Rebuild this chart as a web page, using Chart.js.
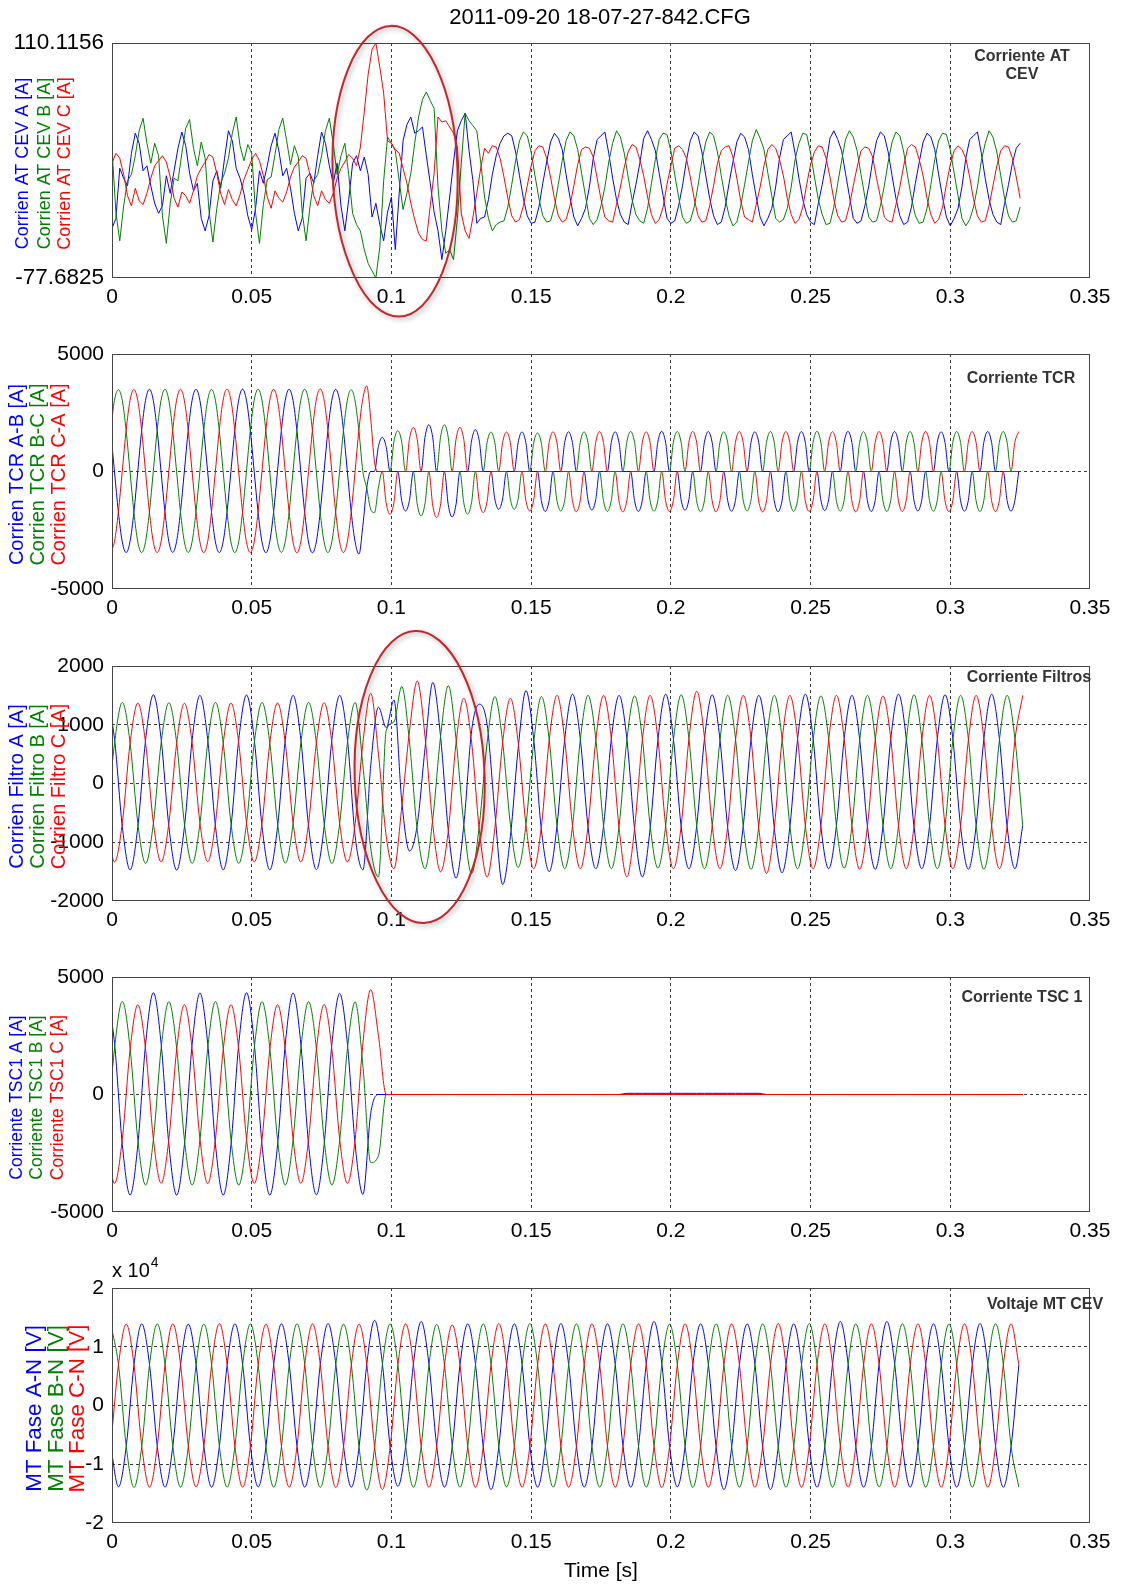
<!DOCTYPE html>
<html>
<head>
<meta charset="utf-8">
<title>2011-09-20 18-07-27-842.CFG</title>
<script src="https://cdn.jsdelivr.net/npm/chart.js@4.4.1/dist/chart.umd.min.js"></script>
<style>
  html, body { margin: 0; padding: 0; background: #fff; }
  #page { position: relative; width: 1121px; height: 1586px; overflow: hidden; }
  #page canvas { position: absolute; left: 0; }
</style>
</head>
<body>
<div id="page">
  <canvas id="pAT" width="1121" height="330" style="top:0px"></canvas>
  <canvas id="pTCR" width="1121" height="330" style="top:311px"></canvas>
  <canvas id="pFIL" width="1121" height="330" style="top:623px"></canvas>
  <canvas id="pTSC" width="1121" height="330" style="top:934px"></canvas>
  <canvas id="pMT" width="1121" height="339" style="top:1245px"></canvas>
</div>
<script>
// Sample period of the record: 6 or 12 points per 60 Hz cycle
const DT6 = 1 / 360;
const DT12 = 1 / 720;

const timeTicks = [0, 0.05, 0.1, 0.15, 0.2, 0.25, 0.3, 0.35];

// ---- Panel 1: Corriente AT CEV [A] (12 pts/cycle, starts at t = 0)
const atStart = 0;
const atTicks = [-77.6825, 110.1156];
const atA = [
  -38,-30,10,2,-4,22,38,30,8,12,-4,-18,
  -26,-20,4,-10,8,26,39,28,6,-8,-2,-30,
  -40,-28,0,8,-6,18,40,32,10,2,-10,-28,
  -39,-22,8,-2,12,28,38,24,4,10,-6,-26,
  -40,-30,2,6,-2,20,39,30,12,-2,
  14,-20,-40,-15,14,20,8,19,5,-29,-18,-35,
  -48,-25,-13,-55,-10,32,45,51,38,40,43,20,
  -2,-25,-40,-63,-40,-13,15,40,48,54,24,0,
  -34,-30,-29,-15,5,20,30,36,38,
  36,23,4,-14,-28,
  -34,-33,-21,-2,15,31,38,34,25,5,-13,-29,
  -36,-30,-22,-5,18,33,36,39,22,2,-15,-27,
  -33,-35,-18,-3,14,34,40,33,24,6,-12,-30,
  -34,-32,-20,-4,16,32,39,36,23,4,-14,-28,
  -35,-33,-21,-2,15,31,38,35,25,5,-13,-29,
  -36,-30,-22,-5,18,33,36,39,22,2,-15,-27,
  -33,-35,-18,-3,14,34,40,33,24,6,-12,-30,
  -34,-32,-20,-4,16,32,39,36,23,4,-14,-28,
  -35,-33,-21,-2,15,31,38,35,25,5,-13,-29,
  -36,-30,-22,-5,18,33,36,39,22,2,-15,-27,
  -33,-35,-18,-3,14,26,30
];
const atB = [
  25,-25,-48,-20,0,5,20,40,50,30,14,30,
  20,-28,-50,-18,2,0,22,42,49,26,12,31,
  18,-24,-49,-22,-2,6,18,38,51,28,16,29,
  22,-26,-50,-19,1,3,21,41,50,32,13,28,
  19,-25,-48,-21,0,5,20,40,50,30,
  5,20,30,5,-26,-35,-40,-55,-66,-72,-77.6,-53,
  0,35,30,24,0,-23,-10,6,30,51,65,71,
  64,58,-5,-40,-58,-55,-63,-30,14,54,48,44,
  40,15,-13,-30,-40,-35,-33,-32,
  -21,-3,16,32,39,36,
  23,4,-14,-28,-33,-32,-21,-3,16,32,39,36,
  25,6,-12,-30,-35,-31,-20,-5,15,30,40,35,
  22,3,-15,-27,-32,-34,-22,-2,17,33,38,37,
  24,5,-13,-29,-34,-32,-21,-4,16,31,39,36,
  23,4,-14,-28,-36,-33,-20,-3,15,32,41,34,
  25,6,-12,-30,-33,-31,-22,-5,17,30,38,37,
  22,3,-15,-27,-35,-34,-21,-2,16,33,40,35,
  24,5,-13,-29,-33,-32,-20,-4,15,31,39,36,
  23,4,-14,-28,-34,-33,-22,-3,17,32,38,37,
  25,6,-12,-30,-36,-31,-21,-5,16,30,40,35,
  23,4,-14,-28,-33,-32,-21
];
const atC = [
  14,22,18,5,-12,-20,-6,-16,-19,-10,2,12,
  16,20,15,3,-14,-21,-9,-12,-18,-8,4,10,
  15,21,19,6,-10,-19,-7,-15,-20,-11,1,9,
  17,22,16,4,-13,-22,-8,-14,-17,-9,3,11,
  15,20,18,5,-12,-20,-8,-15,-18,-10,
  2,10,15,21,18,12,27,55,85,105,110.1,91,
  70,32,30,25,22,10,-2,-18,-31,-42,-47,-48,
  -20,6,51,47,48,43,38,27,-26,-40,-46,-29,
  -10,10,26,22,
  28,27,18,3,-14,-28,-33,-31,-20,-4,
  12,24,28,27,18,3,-14,-28,-33,-31,-20,-4,
  13,25,27,26,19,2,-15,-29,-32,-33,-19,-5,
  11,23,29,27,17,4,-13,-27,-34,-31,-21,-3,
  12,26,28,25,18,3,-14,-28,-33,-32,-20,-4,
  14,24,27,28,19,2,-16,-29,-31,-33,-19,-5,
  12,25,29,26,17,4,-14,-27,-34,-31,-21,-3,
  13,23,28,27,18,3,-15,-28,-33,-32,-20,-4,
  11,24,27,26,19,2,-13,-29,-32,-33,-19,-5,
  12,26,29,27,17,4,-14,-27,-34,-31,-21,-3,
  13,24,28,25,18,3,-15,-28,-33,-32,-20,-4,
  12,24,28,27,18,3,-14
];

// ---- Panel 2: Corriente TCR [A] (12 pts/cycle)
const tcrStart = -0.0005;
const tcrTicks = [-5000, 0, 5000];
const tcrAB = [
  1750,0,-1725,-2990,-3450,-2990,-1725,0,1750,3030,3500,3030,
  1750,0,-1720,-2980,-3440,-2980,-1720,0,1750,3030,3500,3030,
  1755,0,-1725,-2990,-3450,-2990,-1725,0,1750,3035,3505,3035,
  1750,0,-1725,-2995,-3455,-2995,-1730,0,1750,3030,3500,3030,
  1750,0,-1730,-3000,-3460,-3000,-1730,0,1750,3030,3500,3030,
  1750,0,-1725,-2990,-3517,-2300,-700,0,0,1060,1455,1060,
  0,0,0,-1230,-1680,-1230,0,0,0,1450,1990,1450,
  0,0,0,-1410,-1935,-1410,0,0,0,1300,1780,1300,
  0,0,0,-1175,-1610,-1175,0,0,0,1230,1680,1230,
  0,0,0,-1240,-1700,-1240,0,0,0,1235,1690,1235,
  0,0,0,-1200,-1640,-1200,0,0,0,1235,1690,1235,
  0,0,0,-1240,-1700,-1240,0,0,0,1250,1710,1250,
  0,0,0,-1205,-1650,-1205,0,0,0,1240,1700,1240,
  0,0,0,-1235,-1690,-1235,0,0,0,1235,1690,1235,
  0,0,0,-1250,-1710,-1250,0,0,0,1240,1700,1240,
  0,0,0,-1210,-1660,-1210,0,0,0,1245,1705,1245,
  0,0,0,-1240,-1700,-1240,0,0,0,1240,1700,1240,
  0,0,0,-1225,-1680,-1225,0,0,0,1235,1690,1235,
  0,0,0,-1235,-1690,-1235,0,0,0,1240,1700,1240,
  0,0,0,-1235,-1690,-1235,0
];
const tcrBC = [
  1750,3030,3480,3030,1750,0,-1725,-2990,-3450,-2990,-1725,0,
  1750,3030,3500,3030,1750,0,-1725,-2985,-3445,-2985,-1725,0,
  1750,3030,3495,3030,1750,0,-1725,-2990,-3450,-2990,-1725,0,
  1750,3030,3500,3030,1750,0,-1720,-2980,-3440,-2980,-1725,0,
  1750,3030,3500,3030,1750,0,-1725,-2990,-3450,-2990,-1725,0,
  1750,3030,3480,3000,1700,0,-700,-1600,-1750,-700,0,0,
  0,1270,1737,1270,0,0,0,-1380,-1890,-1380,0,0,
  0,1450,1990,1450,0,0,0,-1330,-1820,-1330,0,0,
  0,1230,1680,1230,0,0,0,-1175,-1610,-1175,0,0,
  0,1200,1640,1200,0,0,0,-1230,-1680,-1230,0,0,
  0,1235,1690,1235,0,0,0,-1240,-1700,-1240,0,0,
  0,1245,1705,1245,0,0,0,-1235,-1690,-1235,0,0,
  0,1240,1700,1240,0,0,0,-1250,-1710,-1250,0,0,
  0,1235,1690,1235,0,0,0,-1225,-1680,-1225,0,0,
  0,1240,1700,1240,0,0,0,-1240,-1700,-1240,0,0,
  0,1250,1710,1250,0,0,0,-1235,-1690,-1235,0,0,
  0,1240,1695,1240,0,0,0,-1240,-1700,-1240,0,0,
  0,1240,1700,1240,0,0,0,-1235,-1690,-1235,0,0,
  0,1240,1700,1240,0,0,0,-1240,-1700,-1240,0,0,
  0,1240,1700,1240,0,0,0
];
const tcrCA = [
  -3440,-2980,-1720,0,1750,3020,3490,3020,1750,0,-1725,-2990,
  -3450,-2990,-1725,0,1750,3030,3500,3030,1750,0,-1725,-2990,
  -3455,-2990,-1725,0,1755,3040,3510,3040,1755,0,-1725,-2990,
  -3450,-2990,-1725,0,1750,3030,3500,3030,1750,0,-1730,-2995,
  -3460,-3000,-1730,0,1760,3050,3520,3050,1760,0,-1730,-2995,
  -3450,-2990,-1725,0,1800,3100,3644,2300,400,0,0,-1330,
  -1822,-1330,0,0,0,1370,1880,1370,0,0,0,-1430,
  -1960,-1430,0,0,0,1370,1880,1370,0,0,0,-1280,
  -1750,-1280,0,0,0,1230,1680,1230,0,0,0,-1230,
  -1680,-1230,0,0,0,1235,1690,1235,0,0,0,-1240,
  -1710,-1250,0,0,0,1240,1700,1240,0,0,0,-1255,
  -1720,-1255,0,0,0,1235,1690,1235,0,0,0,-1240,
  -1700,-1240,0,0,0,1245,1705,1245,0,0,0,-1250,
  -1710,-1250,0,0,0,1240,1700,1240,0,0,0,-1255,
  -1720,-1255,0,0,0,1240,1700,1240,0,0,0,-1240,
  -1700,-1240,0,0,0,1235,1695,1235,0,0,0,-1250,
  -1715,-1250,0,0,0,1240,1700,1240,0,0,0,-1240,
  -1700,-1240,0,0,0,1245,1705,1245,0,0,0,-1250,
  -1710,-1250,0,0,0,1240,1700,1240,0,0,0,-1240,
  -1700,-1240,0,0,0,1240,1700
];

// ---- Panel 3: Corriente Filtros [A] (6 pts/cycle)
const filStart = -0.00186;
const filTicks = [-2000, -1000, 0, 1000, 2000];
const filA = [
  1500,750,-735,-1470,-735,750,
  1510,755,-735,-1475,-740,750,
  1500,750,-730,-1470,-735,750,
  1505,750,-735,-1470,-735,750,
  1500,750,-735,-1465,-735,750,
  1500,750,-900,-1470,300,1300,
  950,1420,-300,-1150,-700,600,
  1720,800,-800,-1610,-700,900,
  1350,1000,-500,-1720,-900,600,
  1580,750,-800,-1500,-720,760,
  1520,760,-740,-1450,-720,760,
  1500,760,-780,-1590,-760,740,
  1520,760,-740,-1450,-720,760,
  1510,740,-760,-1480,-720,760,
  1500,760,-760,-1520,-740,760,
  1520,760,-740,-1450,-720,760,
  1500,740,-740,-1460,-720,760,
  1520,760,-740,-1450,-720,760,
  1510,760,-740,-1460,-720,760,
  1520,760,-740,-1450,-720
];
const filB = [
  -680,690,1380,690,-680,-1360,
  -680,690,1375,690,-680,-1360,
  -680,690,1380,690,-680,-1360,
  -680,690,1380,690,-680,-1355,
  -680,690,1380,690,-680,-1360,
  -680,690,1380,300,-1100,-1590,
  900,1050,1650,700,-800,-1450,
  -600,800,1665,750,-700,-1535,
  -700,700,1480,700,-700,-1430,
  -700,700,1480,740,-720,-1450,
  -720,740,1500,760,-720,-1450,
  -720,740,1490,760,-720,-1440,
  -720,740,1510,760,-720,-1450,
  -720,740,1500,760,-730,-1460,
  -720,740,1500,760,-720,-1450,
  -720,740,1490,760,-720,-1440,
  -720,740,1500,760,-720,-1450,
  -720,740,1510,760,-720,-1450,
  -720,740,1500,760,-720,-1460,
  -720,740,1500,760,-720
];
const filC = [
  -670,-1335,-670,685,1370,685,
  -670,-1335,-670,685,1365,685,
  -670,-1330,-670,685,1370,685,
  -670,-1335,-670,685,1370,685,
  -670,-1335,-670,690,1375,690,
  -680,-1333,-680,700,1536,500,
  -900,-1450,-400,900,1745,800,
  -700,-1505,-800,700,1450,700,
  -800,-1590,-750,700,1450,700,
  -700,-1450,-720,740,1500,740,
  -720,-1450,-720,740,1500,760,
  -760,-1590,-760,740,1500,760,
  -720,-1450,-720,760,1570,780,
  -720,-1450,-720,740,1500,760,
  -760,-1530,-740,740,1500,760,
  -720,-1450,-720,740,1500,760,
  -720,-1460,-720,740,1490,760,
  -720,-1450,-720,740,1500,760,
  -720,-1450,-720,740,1500,760,
  -720,-1450,-720,740,1500
];

// ---- Panel 4: Corriente TSC 1 [A] (6 pts/cycle)
const tscStart = -0.00186;
const tscTicks = [-5000, 0, 5000];
const tscA = [
  4330,2160,-2140,-4280,-2140,2160,
  4330,2160,-2140,-4280,-2140,2160,
  4320,2160,-2140,-4280,-2140,2160,
  4330,2160,-2140,-4280,-2140,2160,
  4320,2150,-2140,-4270,-2140,2150,
  4300,2150,-2150,-4250,-800,0,
  0,0,0,0,0,0,0,0,0,0,0,0,
  0,0,0,0,0,0,0,0,0,0,0,0,
  0,0,0,0,0,0,0,
  50,50,50,50,50,50,50,50,50,50,50,50,
  50,50,50,50,50,50,
  0,0,0,0,0,0,0,0,0,0,0,0,
  0,0,0,0,0,0,0,0,0,0,0,0,
  0,0,0,0,0,0,0,0,0,0
];
const tscB = [
  -1930,1980,3960,1980,-1930,-3850,
  -1930,1970,3950,1970,-1930,-3850,
  -1930,1970,3955,1970,-1930,-3855,
  -1930,1970,3950,1970,-1930,-3850,
  -1930,1970,3950,1970,-1930,-3850,
  -1950,1950,3940,1200,-2900,-2600,
  0,0,0,0,0,0,0,0,0,0,0,0,
  0,0,0,0,0,0,0,0,0,0,0,0,
  0,0,0,0,0,0,0,0,0,0,0,0,
  0,0,0,0,0,0,0,0,0,0,0,0,
  0,0,0,0,0,0,0,0,0,0,0,0,
  0,0,0,0,0,0,0,0,0,0,0,0,
  0,0,0,0,0,0,0,0,0,0,0
];
const tscC = [
  -1890,-3780,-1890,1910,3820,1910,
  -1890,-3780,-1890,1910,3825,1910,
  -1890,-3785,-1890,1910,3820,1910,
  -1890,-3780,-1890,1910,3820,1910,
  -1890,-3780,-1890,1915,3830,1915,
  -1900,-3780,-1900,2200,4460,2500,
  0,0,0,0,0,0,0,0,0,0,0,0,
  0,0,0,0,0,0,0,0,0,0,0,0,
  0,0,0,0,0,0,0,0,0,0,0,0,
  0,0,0,0,0,0,0,0,0,0,0,0,
  0,0,0,0,0,0,0,0,0,0,0,0,
  0,0,0,0,0,0,0,0,0,0,0,0,
  0,0,0,0,0,0,0,0,0,0,0
];

// ---- Panel 5: Voltaje MT CEV [V] (6 pts/cycle)
const mtStart = -0.00046;
const mtTicks = [-20000, -10000, 0, 10000, 20000];
const mtA = [
  -6950,-13850,-6950,6950,13900,6950,
  -6950,-13900,-6950,6950,13850,6950,
  -6950,-13900,-6950,6950,13900,6950,
  -6950,-13850,-6950,6950,13900,6950,
  -6950,-13900,-6950,7000,13950,7000,
  -6950,-13900,-7000,7150,14500,7150,
  -7000,-13750,-6950,7100,14300,7050,
  -6950,-13900,-6950,6950,13900,6950,
  -7100,-14300,-7050,6950,13900,6950,
  -6950,-13900,-6950,6950,13950,6950,
  -6950,-13900,-6950,6950,13900,6950,
  -6950,-13900,-6950,7100,14300,7100,
  -6950,-13850,-6950,6950,13900,6950,
  -7100,-14300,-7100,6950,13900,6950,
  -7100,-14300,-7050,6950,13900,6950,
  -6950,-13900,-6950,7100,14300,7100,
  -6950,-13900,-6950,7100,14300,7100,
  -6950,-13900,-6950,6950,13900,6950,
  -6950,-13900,-6950,6950,13950,6950,
  -6950,-13900,-6950,6950
];
const mtB = [
  13900,6950,-6950,-13950,-6950,6950,
  13900,6950,-6950,-13900,-6950,6950,
  13850,6950,-6950,-13900,-6950,6950,
  13900,6950,-6950,-13900,-6950,6950,
  13900,6950,-7000,-13950,-7000,6950,
  13850,6950,-7150,-14400,-7100,6950,
  13900,6950,-6950,-13900,-6950,6900,
  13800,6900,-6950,-13900,-6950,6950,
  13900,6950,-6950,-13850,-6950,6950,
  13950,6950,-6950,-13900,-6950,6950,
  13900,6950,-6950,-13900,-6950,6950,
  13900,6950,-6950,-13900,-6950,6950,
  13850,6950,-6950,-13950,-6950,6950,
  13900,6950,-6950,-13900,-6950,6950,
  13900,6950,-6950,-13900,-6950,6950,
  13950,6950,-6950,-13900,-6950,6950,
  13900,6950,-6950,-13850,-6950,6950,
  13900,6950,-6950,-13900,-6950,6950,
  13900,6950,-6950,-13900,-6950,6950,
  13900,6950,-6950,-13900
];
const mtC = [
  -6950,6950,13850,6950,-6950,-13900,
  -6950,6900,13900,6950,-6950,-13850,
  -6950,6950,13950,6950,-6950,-13900,
  -6950,6950,13850,6950,-6950,-13900,
  -6950,6950,13900,6950,-6950,-13950,
  -7000,6900,13850,6950,-7100,-14300,
  -7050,6950,13900,6950,-6950,-13900,
  -6950,6850,13700,6850,-6950,-13900,
  -6950,6950,13950,6950,-6950,-13900,
  -6950,6950,13900,6950,-6950,-13900,
  -6950,6950,13900,6950,-6950,-13900,
  -6950,6950,13900,6950,-6950,-13950,
  -6950,6950,13900,6950,-6950,-13900,
  -6950,6950,13900,6950,-6950,-13900,
  -6950,6950,13950,6950,-6950,-13900,
  -6950,6950,13900,6950,-6950,-13900,
  -6950,6950,13900,6950,-6950,-13900,
  -6950,6950,13900,6950,-6950,-13900,
  -6950,6950,13900,6950,-6950,-13900,
  -6950,6950,13900,6950
];

// ===== Drawing =====
const BLUE = '#0000ff', GREEN = '#008000', RED = '#ff0000';
const GRID = '#3a3a3a';
const FONT = "'Liberation Sans', Arial, Helvetica, sans-serif";

// sample index -> time in seconds
const toPoints = (t0, dt, values) => values.map((v, i) => ({ x: t0 + i * dt, y: v }));

function makeDecor(cfg) {
  return {
    id: 'decor',
    afterDatasetsDraw(chart) {
      const { ctx, chartArea: a } = chart;
      ctx.save();
      ctx.strokeStyle = '#444';
      ctx.lineWidth = 1;
      ctx.strokeRect(a.left + 0.5, a.top + 0.5, a.right - a.left - 1, a.bottom - a.top - 1);
      ctx.restore();
    },
    afterDraw(chart) {
      const { ctx, chartArea: a, scales } = chart;
      ctx.save();

      // rotated, colour coded y labels
      const colours = [BLUE, GREEN, RED];
      const midY = (a.top + a.bottom) / 2 + 3;
      ctx.font = cfg.labelSize + 'px ' + FONT;
      ctx.textAlign = 'center';
      ctx.textBaseline = 'middle';
      cfg.labels.forEach((txt, i) => {
        ctx.save();
        ctx.translate(cfg.labelX[i], midY);
        ctx.rotate(-Math.PI / 2);
        ctx.fillStyle = colours[i];
        ctx.fillText(txt, 0, 0);
        ctx.restore();
      });

      // panel name in the top right corner
      ctx.font = 'bold 16px ' + FONT;
      ctx.fillStyle = '#333';
      cfg.corner.forEach((txt, i) => {
        ctx.fillText(txt, a.right + cfg.cornerDx, a.top + cfg.cornerDy[i]);
      });

      if (cfg.title) {
        ctx.font = '22px ' + FONT;
        ctx.fillStyle = '#000';
        ctx.fillText(cfg.title, (a.left + a.right) / 2 - 1, a.top - 25);
      }

      if (cfg.exponent) {
        ctx.textAlign = 'left';
        ctx.font = '20px ' + FONT;
        ctx.fillStyle = '#000';
        ctx.fillText('x 10', a.left, a.top - 17);
        const w = ctx.measureText('x 10').width;
        ctx.font = '14px ' + FONT;
        ctx.fillText('4', a.left + w + 1, a.top - 25);
      }

      // hand drawn highlight around the event
      if (cfg.ellipse) {
        const e = cfg.ellipse;
        const cx = scales.x.getPixelForValue(e.t);
        const cy = scales.y.getPixelForValue(e.v);
        const rx = scales.x.getPixelForValue(e.t + e.rt) - cx;
        const ry = cy - scales.y.getPixelForValue(e.v + e.rv);
        ctx.shadowColor = 'rgba(0,0,0,0.35)';
        ctx.shadowBlur = 5;
        ctx.shadowOffsetX = 2;
        ctx.shadowOffsetY = 2;
        ctx.strokeStyle = '#c0282d';
        ctx.lineWidth = 2;
        ctx.beginPath();
        ctx.ellipse(cx, cy, rx, ry, e.rot, 0, Math.PI * 2);
        ctx.stroke();
      }
      ctx.restore();
    }
  };
}

function drawPanel(cfg) {
  const line = (values, colour) => ({
    data: toPoints(cfg.t0, cfg.dt, values),
    borderColor: colour,
    borderWidth: 1,
    pointRadius: 0,
    fill: false,
    tension: 0,
    cubicInterpolationMode: cfg.smooth ? 'monotone' : 'default'
  });

  const tickFont = { family: FONT, size: 21 };
  const xScale = {
    type: 'linear',
    min: 0,
    max: 0.35,
    afterBuildTicks: s => { s.ticks = timeTicks.map(v => ({ value: v })); },
    afterFit: s => { s.height = cfg.xHeight; },
    ticks: {
      autoSkip: false, maxRotation: 0, padding: 7, color: '#000', font: tickFont,
      callback: v => String(+Number(v).toFixed(2))
    },
    grid: {
      drawTicks: false, lineWidth: 1,
      color: c => (c.tick && c.tick.value > 0 && c.tick.value < 0.35) ? GRID : 'rgba(0,0,0,0)'
    },
    border: { display: false, dash: [3, 3] }
  };
  if (cfg.xTitle) {
    xScale.title = {
      display: true, text: cfg.xTitle, color: '#000',
      font: { family: FONT, size: 21 }, padding: { top: 0, bottom: 0 }
    };
  }

  return new Chart(document.getElementById(cfg.id), {
    type: 'line',
    data: {
      // first dataset is painted last, so phase C ends up on top
      datasets: [line(cfg.c, RED), line(cfg.b, GREEN), line(cfg.a, BLUE)]
    },
    options: {
      responsive: false,
      animation: false,
      events: [],
      layout: { padding: { top: 43, right: 31, left: 0, bottom: 0 } },
      plugins: { legend: { display: false }, tooltip: { enabled: false }, title: { display: false } },
      scales: {
        x: xScale,
        y: {
          min: cfg.yTicks[0],
          max: cfg.yTicks[cfg.yTicks.length - 1],
          afterBuildTicks: s => { s.ticks = cfg.yTicks.map(v => ({ value: v })); },
          afterFit: s => { s.width = 112; },
          ticks: {
            padding: 8, color: '#000', callback: cfg.fmt,
            font: { family: FONT, size: cfg.yTickSize || 21 }
          },
          grid: {
            drawTicks: false, lineWidth: 1,
            color: c => (c.tick && cfg.yGrid.includes(c.tick.value)) ? GRID : 'rgba(0,0,0,0)'
          },
          border: { display: false, dash: [3, 3] }
        }
      }
    },
    plugins: [makeDecor(cfg)]
  });
}

drawPanel({
  id: 'pAT', t0: atStart, dt: DT12, smooth: false, xHeight: 52,
  a: atA, b: atB, c: atC,
  yTicks: atTicks, yGrid: [], yTickSize: 22.5, fmt: v => Number(v).toFixed(4),
  labels: ['Corrien AT CEV A [A]', 'Corrien AT CEV B [A]', 'Corrien AT CEV C [A]'],
  labelSize: 18, labelX: [23, 45, 65],
  corner: ['Corriente AT', 'CEV'], cornerDx: -68, cornerDy: [14, 32],
  title: '2011-09-20 18-07-27-842.CFG',
  ellipse: { t: 0.1013, v: 7.65, rt: 0.02236, rv: 116.2, rot: -0.03 }
});

drawPanel({
  id: 'pTCR', t0: tcrStart, dt: DT12, smooth: true, xHeight: 52,
  a: tcrAB, b: tcrBC, c: tcrCA,
  yTicks: tcrTicks, yGrid: [0], fmt: v => String(v),
  labels: ['Corrien TCR A-B [A]', 'Corrien TCR B-C [A]', 'Corrien TCR C-A [A]'],
  labelSize: 20, labelX: [17, 38, 59],
  corner: ['Corriente TCR'], cornerDx: -69, cornerDy: [25]
});

drawPanel({
  id: 'pFIL', t0: filStart, dt: DT6, smooth: true, xHeight: 52,
  a: filA, b: filB, c: filC,
  yTicks: filTicks, yGrid: [-1000, 0, 1000], fmt: v => String(v),
  labels: ['Corrien Filtro A [A]', 'Corrien Filtro B [A]', 'Corrien Filtro C [A]'],
  labelSize: 20, labelX: [17, 38, 59],
  corner: ['Corriente Filtros'], cornerDx: -61, cornerDy: [12],
  ellipse: { t: 0.1101, v: 110, rt: 0.02325, rv: 2485, rot: -0.03 }
});

drawPanel({
  id: 'pTSC', t0: tscStart, dt: DT6, smooth: true, xHeight: 52,
  a: tscA, b: tscB, c: tscC,
  yTicks: tscTicks, yGrid: [0], fmt: v => String(v),
  labels: ['Corriente TSC1 A [A]', 'Corriente TSC1 B [A]', 'Corriente TSC1 C [A]'],
  labelSize: 17.5, labelX: [17, 37.5, 58.5],
  corner: ['Corriente TSC 1'], cornerDx: -68, cornerDy: [21]
});

drawPanel({
  id: 'pMT', t0: mtStart, dt: DT6, smooth: true, xHeight: 61, xTitle: 'Time [s]',
  a: mtA, b: mtB, c: mtC,
  yTicks: mtTicks, yGrid: [-10000, 0, 10000], fmt: v => String(v / 10000),
  labels: ['MT Fase A-N [V]', 'MT Fase B-N [V]', 'MT Fase C-N [V]'],
  labelSize: 22.4, labelX: [35, 57, 78],
  corner: ['Voltaje MT CEV'], cornerDx: -45, cornerDy: [17],
  exponent: true
});
</script>
</body>
</html>
